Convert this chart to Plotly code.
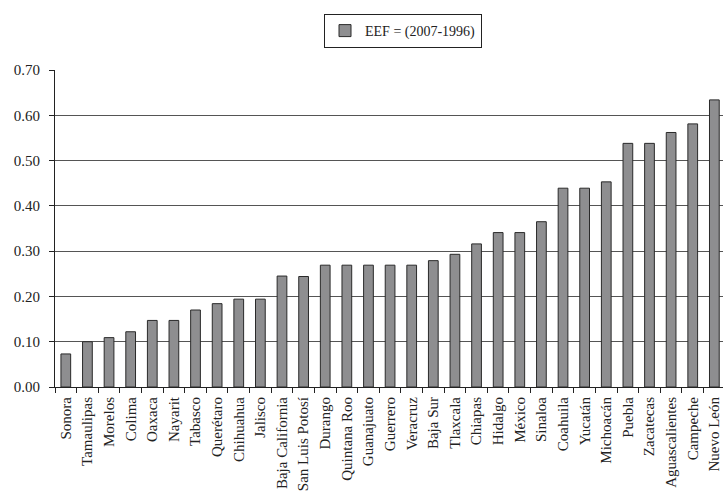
import plotly.graph_objects as go

states = ["Sonora", "Tamaulipas", "Morelos", "Colima", "Oaxaca", "Nayarit", "Tabasco",
          "Querétaro", "Chihuahua", "Jalisco", "Baja California", "San Luis Potosí",
          "Durango", "Quintana Roo", "Guanajuato", "Guerrero", "Veracruz", "Baja Sur",
          "Tlaxcala", "Chiapas", "Hidalgo", "México", "Sinaloa", "Coahuila", "Yucatán",
          "Michoacán", "Puebla", "Zacatecas", "Aguascalientes", "Campeche", "Nuevo León"]
eef = [0.073, 0.100, 0.109, 0.122, 0.147, 0.147, 0.170,
       0.184, 0.194, 0.194, 0.245, 0.244,
       0.269, 0.269, 0.269, 0.269, 0.269, 0.279,
       0.293, 0.316, 0.341, 0.341, 0.365, 0.439, 0.439,
       0.453, 0.538, 0.538, 0.562, 0.581, 0.634]
y_ticks = [0.0, 0.1, 0.2, 0.3, 0.4, 0.5, 0.6, 0.7]
y_labels = ["0.00", "0.10", "0.20", "0.30", "0.40", "0.50", "0.60", "0.70"]

font = "Liberation Serif"

W, H = 723, 494
L, T, B = 55, 70, 107
plot_w = W - L
plot_h = H - T - B

fig = go.Figure()
fig.add_trace(go.Bar(
    x=states, y=eef, name="EEF = (2007-1996)",
    marker=dict(color="#8e8e90", line=dict(color="#2a2a2a", width=1)),
    width=0.45,
))

fig.update_layout(
    width=W, height=H,
    margin=dict(l=L, r=0, t=T, b=B, autoexpand=False),
    paper_bgcolor="white", plot_bgcolor="white",
    font=dict(family=font, size=14, color="#222"),
    showlegend=True,
    legend=dict(
        x=(403 - L) / plot_w, y=1 + (T - 14) / plot_h, xanchor="center", yanchor="top",
        bordercolor="#222", borderwidth=1, bgcolor="white",
        font=dict(family=font, size=14, color="#222"),
        itemwidth=30, tracegroupgap=0,
    ),
)
fig.update_xaxes(
    type="category", range=[-0.5, 30.4],
    tickangle=-90, tickson="boundaries", ticks="outside", ticklen=5,
    tickcolor="#222", showline=True, linecolor="#222", linewidth=1,
    showgrid=False, ticklabelstandoff=3,
    tickfont=dict(family=font, size=15, color="#222"),
)
fig.update_yaxes(
    range=[0, 0.7], tickvals=y_ticks, ticktext=y_labels,
    ticks="outside", ticklen=5, tickcolor="#222",
    showline=True, linecolor="#222", linewidth=1,
    showgrid=True, gridcolor="#555", gridwidth=1, zeroline=False,
    ticklabelstandoff=6,
    tickfont=dict(family=font, size=15, color="#222"),
)

fig.write_html(
    "out.html",
    config={"displayModeBar": False},
    post_script="document.body.style.margin='0';document.body.style.overflow='hidden';",
)
